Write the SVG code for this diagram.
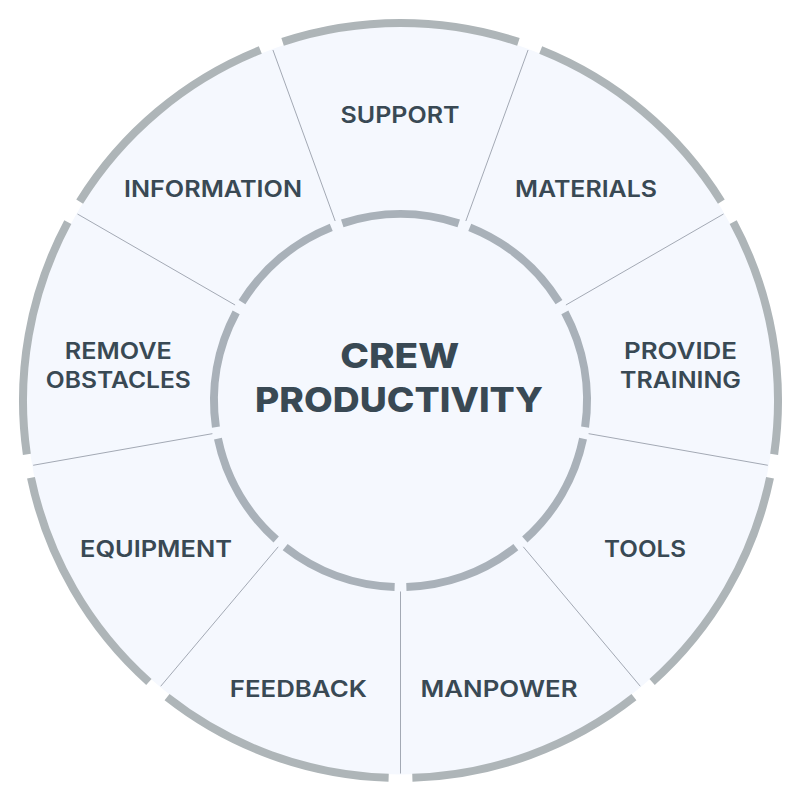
<svg xmlns="http://www.w3.org/2000/svg" width="800" height="800" viewBox="0 0 800 800">
<style>
.outer{fill:none;stroke:#aeb5b8;stroke-width:8}
.inner{fill:none;stroke:#a9b1b9;stroke-width:8}
.div{stroke:#a3a9b4;stroke-width:1}
.lbl{font-family:Inter,"Open Sans","Liberation Sans",sans-serif;font-size:22.5px;font-weight:600;fill:#394954;text-anchor:middle}
.ctr{font-family:Inter,"Open Sans","Liberation Sans",sans-serif;font-size:34px;font-weight:800;fill:#394954;text-anchor:middle}
</style>
<rect width="800" height="800" fill="#ffffff"/>
<circle cx="400.5" cy="400.5" r="374" fill="#f5f8fe"/>
<g id="connectors">
<line class="div" x1="465.83" y1="221.02" x2="528.07" y2="50"/>
<line class="div" x1="565.91" y1="305" x2="723.53" y2="214"/>
<line class="div" x1="588.6" y1="433.67" x2="767.83" y2="465.27"/>
<line class="div" x1="523.27" y1="546.81" x2="640.26" y2="686.23"/>
<line class="div" x1="400.5" y1="591.5" x2="400.5" y2="773.5"/>
<line class="div" x1="278.23" y1="546.81" x2="160.74" y2="686.23"/>
<line class="div" x1="212.4" y1="433.67" x2="33.17" y2="465.27"/>
<line class="div" x1="235.09" y1="305" x2="77.47" y2="214"/>
<line class="div" x1="335.17" y1="221.02" x2="272.93" y2="50"/>
</g>
<g id="support">
<path class="outer" d="M282.59 41.89A377.5 377.5 0 0 1 518.41 41.89"/>
<path class="inner" d="M342.25 223.33A186.5 186.5 0 0 1 458.75 223.33"/>
<text class="lbl" x="400" y="123.3" textLength="119" lengthAdjust="spacingAndGlyphs">SUPPORT</text>
</g>
<g id="materials">
<path class="outer" d="M540.69 50A377.5 377.5 0 0 1 721.33 201.57"/>
<path class="inner" d="M469.76 227.34A186.5 186.5 0 0 1 559 302.22"/>
<text class="lbl" x="586" y="197" textLength="142" lengthAdjust="spacingAndGlyphs">MATERIALS</text>
</g>
<g id="provide-training">
<path class="outer" d="M733.19 222.11A377.5 377.5 0 0 1 774.14 454.34"/>
<path class="inner" d="M564.86 312.37A186.5 186.5 0 0 1 585.09 427.1"/>
<text class="lbl" x="680.5" y="359.3" textLength="113" lengthAdjust="spacingAndGlyphs">PROVIDE</text>
<text class="lbl" x="680.5" y="388.3" textLength="121" lengthAdjust="spacingAndGlyphs">TRAINING</text>
</g>
<g id="tools">
<path class="outer" d="M770.02 477.7A377.5 377.5 0 0 1 652.12 681.92"/>
<path class="inner" d="M583.06 438.64A186.5 186.5 0 0 1 524.81 539.53"/>
<text class="lbl" x="645" y="556.7" textLength="82" lengthAdjust="spacingAndGlyphs">TOOLS</text>
</g>
<g id="manpower">
<path class="outer" d="M633.95 697.16A377.5 377.5 0 0 1 412.36 777.82"/>
<path class="inner" d="M515.83 547.06A186.5 186.5 0 0 1 406.36 586.91"/>
<text class="lbl" x="499" y="697.3" textLength="157" lengthAdjust="spacingAndGlyphs">MANPOWER</text>
</g>
<g id="feedback">
<path class="outer" d="M388.64 777.82A377.5 377.5 0 0 1 167.05 697.16"/>
<path class="inner" d="M394.64 586.91A186.5 186.5 0 0 1 285.17 547.06"/>
<text class="lbl" x="298.3" y="697.3" textLength="137" lengthAdjust="spacingAndGlyphs">FEEDBACK</text>
</g>
<g id="equipment">
<path class="outer" d="M148.88 681.92A377.5 377.5 0 0 1 30.98 477.7"/>
<path class="inner" d="M276.19 539.53A186.5 186.5 0 0 1 217.94 438.64"/>
<text class="lbl" x="156" y="556.7" textLength="152" lengthAdjust="spacingAndGlyphs">EQUIPMENT</text>
</g>
<g id="remove-obstacles">
<path class="outer" d="M26.86 454.34A377.5 377.5 0 0 1 67.81 222.11"/>
<path class="inner" d="M215.91 427.1A186.5 186.5 0 0 1 236.14 312.37"/>
<text class="lbl" x="118.3" y="359.3" textLength="107" lengthAdjust="spacingAndGlyphs">REMOVE</text>
<text class="lbl" x="118.3" y="387.7" textLength="145" lengthAdjust="spacingAndGlyphs">OBSTACLES</text>
</g>
<g id="information">
<path class="outer" d="M79.67 201.57A377.5 377.5 0 0 1 260.31 50"/>
<path class="inner" d="M242 302.22A186.5 186.5 0 0 1 331.24 227.34"/>
<text class="lbl" x="213" y="197.3" textLength="178" lengthAdjust="spacingAndGlyphs">INFORMATION</text>
</g>
<g id="crew-productivity">
<text class="ctr" x="399.7" y="368.3" textLength="119" lengthAdjust="spacingAndGlyphs">CREW</text>
<text class="ctr" x="399" y="412" textLength="288" lengthAdjust="spacingAndGlyphs">PRODUCTIVITY</text>
</g>
</svg>
